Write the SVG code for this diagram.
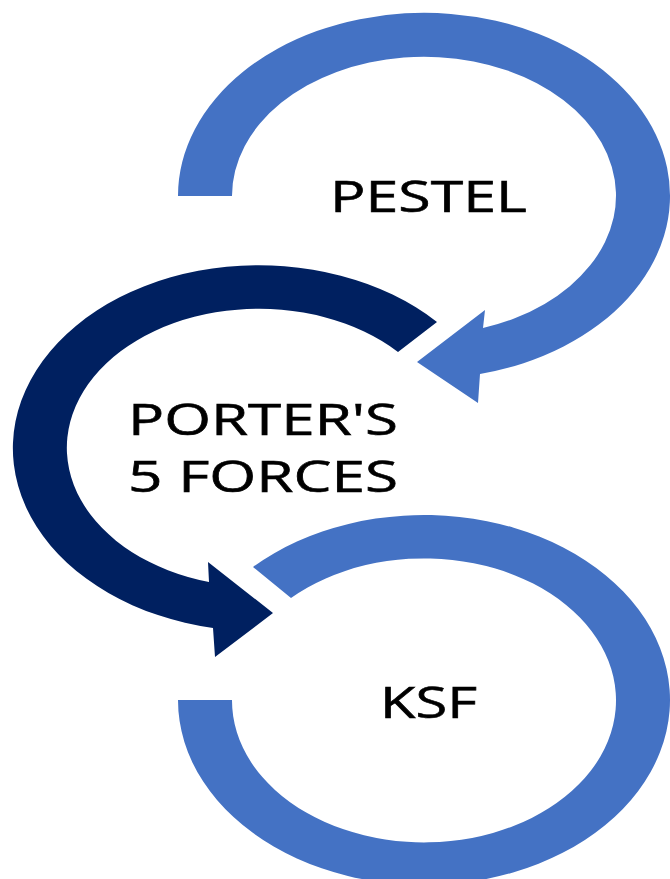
<svg xmlns="http://www.w3.org/2000/svg" width="670" height="879" viewBox="0 0 670 879">
  <style>
    .light { fill: #4472C4; }
    .dark { fill: #002060; }
    .label { font-family: "Open Sans", "Noto Sans", "Liberation Sans", sans-serif; font-size: 44px; fill: #000000; stroke: #000000; stroke-width: 0.6px; }
  </style>
  <rect width="670" height="879" fill="#ffffff"/>

  <!-- Top cycle arrow: starts on the left, runs clockwise, head points back toward the middle -->
  <g id="node-pestel">
    <path class="light" d="M178,196 A246,183 0 1,1 480,374 L478,403 L417,362 L485,310 L483,328 A192,139 0 1,0 232,196 Z"/>
    <text class="label" transform="translate(330,212) scale(1.33,1)" textLength="148" lengthAdjust="spacingAndGlyphs">PESTEL</text>
  </g>

  <!-- Middle cycle arrow: runs counter-clockwise round the left side -->
  <g id="node-porter">
    <path class="dark" d="M437,322 A246,183 0 1,0 213,628 L215,657 L273,613 L208,562 L209,582 A192,139 0 1,1 398,352 Z"/>
    <text class="label" transform="translate(128,435) scale(1.33,1)" textLength="203" lengthAdjust="spacingAndGlyphs">PORTER'S</text>
    <text class="label" transform="translate(128,492) scale(1.33,1)" textLength="203" lengthAdjust="spacingAndGlyphs">5 FORCES</text>
  </g>

  <!-- Bottom cycle: open ring from upper left, clockwise round to the left -->
  <g id="node-ksf">
    <path class="light" d="M253,567 A246,185 0 1,1 178,700 L232,700 A192,142 0 1,0 291,598 Z"/>
    <text class="label" transform="translate(380,718) scale(1.33,1)" textLength="73" lengthAdjust="spacingAndGlyphs">KSF</text>
  </g>

  <g id="connectors"/>
</svg>
